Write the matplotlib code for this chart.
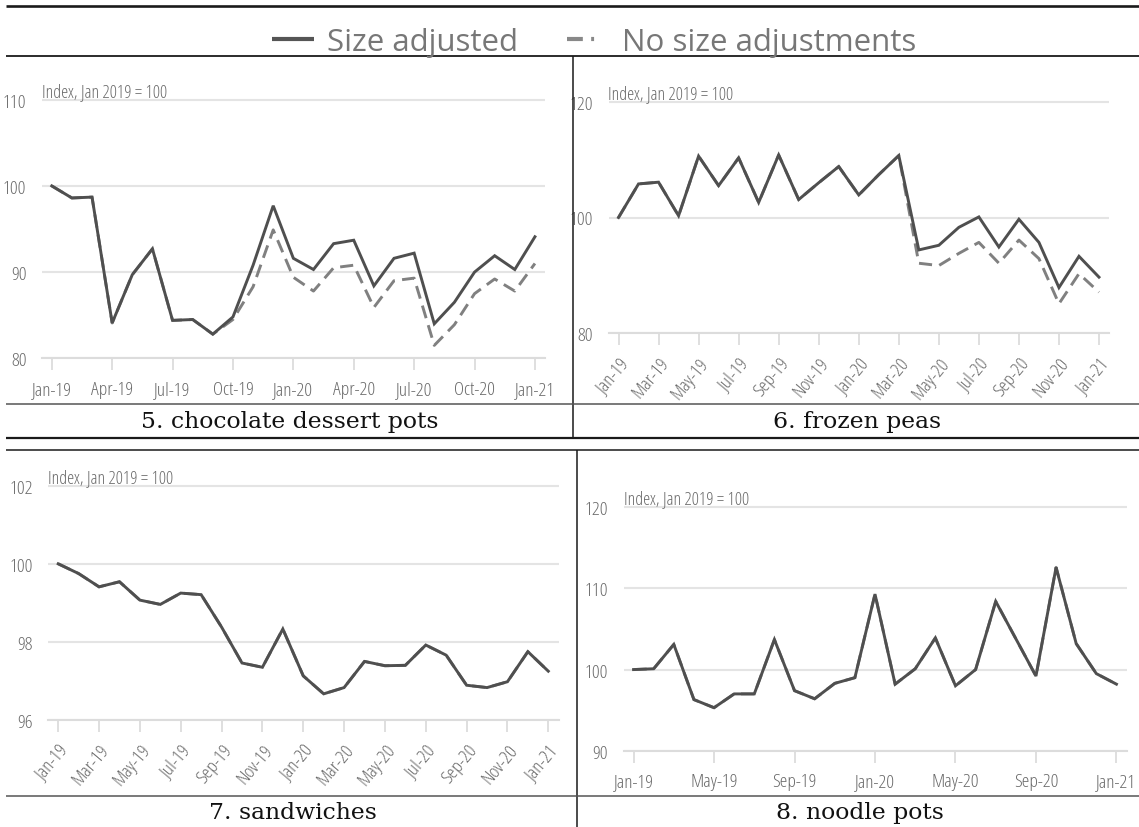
import os
import numpy as np
import matplotlib
matplotlib.use('Agg')
import matplotlib.pyplot as plt
from matplotlib import font_manager as fm
from matplotlib.lines import Line2D

# Datos: índice mensual, Jan 2019 = 100 (25 meses, Jan-19 .. Jan-21)
meses = np.arange(25)

choc_ajustado = [100.0, 98.6, 98.7, 84.1, 89.7, 92.7, 84.4, 84.5, 82.8, 84.8, 90.8, 97.7, 91.6,
                 90.3, 93.3, 93.7, 88.4, 91.6, 92.2, 84.0, 86.5, 90.0, 91.9, 90.3, 94.1]
choc_sin_ajuste = [100.0, 98.6, 98.7, 84.1, 89.7, 92.7, 84.4, 84.5, 82.8, 84.5, 88.3, 94.9, 89.4,
                   87.8, 90.5, 90.8, 85.9, 89.0, 89.3, 81.5, 83.9, 87.5, 89.2, 87.8, 91.0]

guisantes_ajustado = [100.0, 105.8, 106.1, 100.3, 110.6, 105.5, 110.3, 102.6, 110.8, 103.1, 106.0, 108.8, 103.9,
                      107.4, 110.7, 94.4, 95.2, 98.3, 100.1, 94.9, 99.7, 95.7, 87.9, 93.3, 89.7]
guisantes_sin_ajuste = [100.0, 105.8, 106.1, 100.3, 110.6, 105.5, 110.3, 102.6, 110.8, 103.1, 106.0, 108.8, 103.9,
                        107.4, 110.7, 92.1, 91.7, 93.8, 95.7, 92.1, 96.1, 92.9, 85.1, 90.3, 87.1]

sandwich_ajustado = [100.0, 99.75, 99.41, 99.54, 99.07, 98.96, 99.25, 99.21, 98.38, 97.46, 97.35, 98.33, 97.13,
                     96.67, 96.83, 97.5, 97.39, 97.4, 97.92, 97.66, 96.89, 96.83, 96.98, 97.75, 97.25]
sandwich_sin_ajuste = [100.0, 99.75, 99.41, 99.54, 99.07, 98.96, 99.25, 99.21, 98.38, 97.46, 97.35, 98.33, 97.13,
                       96.67, 96.83, 97.5, 97.39, 97.4, 97.92, 97.66, 96.89, 96.83, 96.98, 97.75, 97.25]

fideos_ajustado = [100.0, 100.1, 103.1, 96.3, 95.3, 97.0, 97.0, 103.7, 97.4, 96.4, 98.3, 99.0, 109.3,
                   98.2, 100.1, 103.9, 98.0, 100.0, 108.4, 103.8, 99.2, 112.6, 103.2, 99.5, 98.2]
fideos_sin_ajuste = [100.0, 100.1, 103.1, 96.3, 95.3, 97.0, 97.0, 103.7, 97.4, 96.4, 98.3, 99.0, 109.3,
                     98.2, 100.1, 103.9, 98.0, 100.0, 108.4, 103.8, 99.2, 112.6, 103.2, 99.5, 98.2]

etiquetas_trimestre = ['Jan-19', 'Apr-19', 'Jul-19', 'Oct-19', 'Jan-20', 'Apr-20', 'Jul-20', 'Oct-20', 'Jan-21']
etiquetas_bimestre = ['Jan-19', 'Mar-19', 'May-19', 'Jul-19', 'Sep-19', 'Nov-19', 'Jan-20',
                      'Mar-20', 'May-20', 'Jul-20', 'Sep-20', 'Nov-20', 'Jan-21']
etiquetas_cuatrimestre = ['Jan-19', 'May-19', 'Sep-19', 'Jan-20', 'May-20', 'Sep-20', 'Jan-21']

titulos = ['5. chocolate dessert pots', '6. frozen peas', '7. sandwiches', '8. noodle pots']
leyenda = ['Size adjusted', 'No size adjustments']

W, H = 1139, 828
COLOR_TXT = '#6a6a6a'
COLOR_GRID = '#e4e4e4'


def buscar_fuente(patrones):
    """Busca un fichero de fuente estrecha (condensed) instalado."""
    for pat in patrones:
        for f in fm.fontManager.ttflist:
            if pat.lower() in os.path.basename(f.fname).lower():
                return f.fname
    return None


fuente_estrecha = buscar_fuente(['OpenSans-CondLight', 'OpenSansCondensed-Light', 'OpenSans_Condensed-Light',
                                 'OpenSans-CondensedLight', 'RobotoCondensed-Light', 'RobotoCondensed-Regular',
                                 'LiberationSansNarrow-Regular'])


def fuente_ticks(tam):
    if fuente_estrecha:
        return fm.FontProperties(fname=fuente_estrecha, size=tam)
    return fm.FontProperties(family='Open Sans', size=tam * 0.68)


def caja(izq, der, arriba, abajo):
    """Convierte coordenadas en pixeles (origen arriba) a rect de figura."""
    return [izq / W, 1 - abajo / H, (der - izq) / W, (abajo - arriba) / H]


def graficar_panel(fig, px, ajustado, sin_ajuste, ymin, ymax, paso, posiciones, etiquetas, rot):
    izq, der, arriba, abajo = px
    margen = 4 * (ymax - ymin) / (abajo - arriba)
    ax = fig.add_axes(caja(izq, der, arriba - 4, abajo))
    ax.plot(meses, sin_ajuste, color='#808080', lw=2.1, dashes=(4.5, 2.5), zorder=3,
            solid_capstyle='butt', dash_capstyle='butt')
    ax.plot(meses, ajustado, color='#4f4f4f', lw=2.1, zorder=4, solid_joinstyle='miter')
    ax.set_xlim(-0.5, 24.5)
    ax.set_ylim(ymin, ymax + margen)
    ax.set_yticks(np.arange(ymin, ymax + paso / 2, paso))
    ax.grid(axis='y', color=COLOR_GRID, lw=1.5, zorder=0)
    ax.set_axisbelow(True)
    for lado in ['top', 'right', 'left']:
        ax.spines[lado].set_visible(False)
    ax.spines['bottom'].set_color('#dcdcdc')
    ax.spines['bottom'].set_linewidth(1.5)
    ax.set_xticks(posiciones)
    fp = fuente_ticks(14)
    if rot:
        ax.set_xticklabels(etiquetas, rotation=50, ha='right', rotation_mode='anchor', fontproperties=fp)
        ax.tick_params(axis='x', pad=6)
    else:
        ax.set_xticklabels(etiquetas, fontproperties=fp)
        ax.tick_params(axis='x', pad=7)
    for lab in ax.get_yticklabels():
        lab.set_fontproperties(fp)
    ax.tick_params(axis='x', length=8.6, width=1.1, color='#d6d6d6', labelcolor=COLOR_TXT)
    ax.tick_params(axis='y', length=0, pad=11, labelcolor=COLOR_TXT)
    ax.text(0, ymax, 'Index, Jan 2019 = 100', transform=ax.get_yaxis_transform(),
            ha='left', va='bottom', color=COLOR_TXT, fontproperties=fuente_ticks(13))
    return ax


fig = plt.figure(figsize=(W / 100, H / 100), dpi=100)

graficar_panel(fig, (41.7, 545, 100.7, 359.3), choc_ajustado, choc_sin_ajuste, 80, 110, 10,
               meses[::3], etiquetas_trimestre, False)
graficar_panel(fig, (608.5, 1109, 102.7, 334.3), guisantes_ajustado, guisantes_sin_ajuste, 80, 120, 20,
               meses[::2], etiquetas_bimestre, True)
graficar_panel(fig, (48, 558.5, 486.7, 721), sandwich_ajustado, sandwich_sin_ajuste, 96, 102, 2,
               meses[::2], etiquetas_bimestre, True)
graficar_panel(fig, (623.5, 1126.5, 508.3, 751.7), fideos_ajustado, fideos_sin_ajuste, 90, 120, 10,
               meses[::4], etiquetas_cuatrimestre, False)

# Leyenda común arriba
manijas = [Line2D([], [], color='#555555', lw=3.0, solid_capstyle='butt'),
           Line2D([], [], color='#888888', lw=3.0, dashes=[3.8, 2.0, 0.7, 20], dash_capstyle='butt')]
fig.legend(manijas, leyenda, loc='center', bbox_to_anchor=(594 / W, 1 - 43 / H), ncol=2, frameon=False,
           prop=fm.FontProperties(family='Open Sans', size=22.5), labelcolor='#777777',
           handlelength=1.34, handletextpad=0.42, columnspacing=1.57)

# Titulos de cada panel (fuente serif)
posiciones_titulo = [(290, 421.7), (856.7, 421.7), (293, 813), (860, 813)]
for (tx, ty), titulo in zip(posiciones_titulo, titulos):
    fig.text(tx / W, 1 - ty / H, titulo, ha='center', va='center', fontsize=16.9,
             family='DejaVu Serif', color='#111111')


def linea(x0, y0, x1, y1, lw, color='#1a1a1a'):
    fig.add_artist(Line2D([x0 / W, x1 / W], [1 - y0 / H, 1 - y1 / H], transform=fig.transFigure,
                          color=color, lw=lw, solid_capstyle='butt'))


# Bordes de la tabla
linea(6, 7.3, W, 7.3, 1.9)
linea(6, 57.3, W, 57.3, 1.3)
linea(573.3, 57.3, 573.3, 438.7, 1.1)
linea(6, 404.7, W, 404.7, 1.1, '#555555')
linea(6, 438.7, W, 438.7, 1.6)
linea(6, 450.7, W, 450.7, 1.1)
linea(577.3, 450.7, 577.3, H, 1.1)
linea(6, 797.3, W, 797.3, 1.1, '#555555')

fig.savefig('out.png', dpi=100)
plt.close(fig)
